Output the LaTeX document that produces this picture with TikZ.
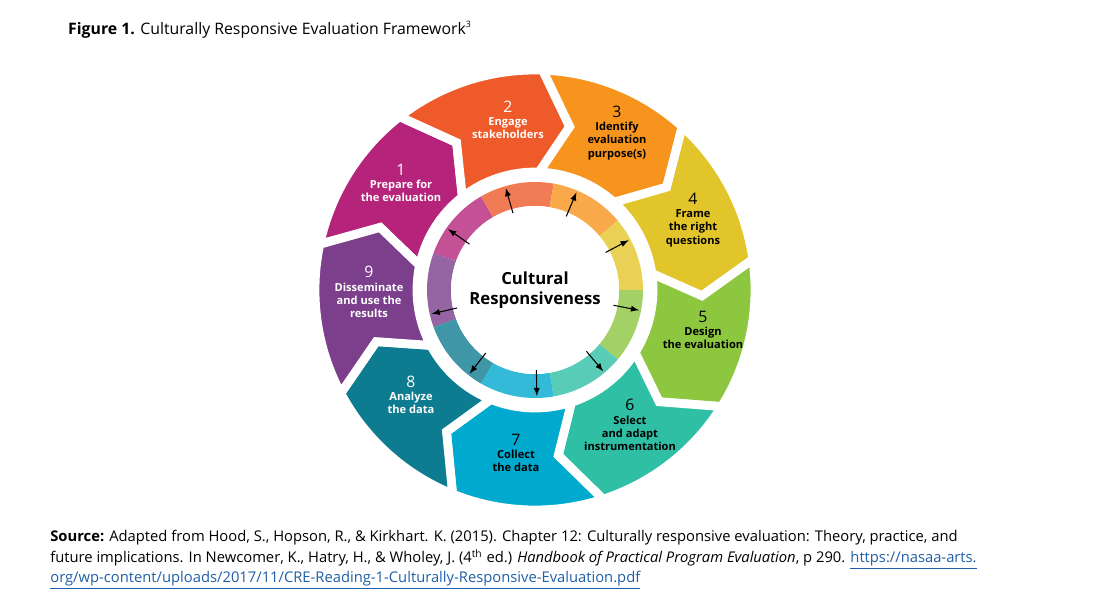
\documentclass[tikz,border=0pt]{standalone}
\usepackage{fontspec}
\setmainfont{Open Sans}
\begin{document}
\begin{tikzpicture}[x=0.02cm,y=0.02cm,
  seg/.style={draw=white,line width=5pt,line join=miter},
  lab/.style={align=center,font=\fontsize{6.3}{7.5}\selectfont\bfseries},
  arr/.style={-latex,line width=0.6pt}]
\useasboundingbox[fill=white] (0,-600) rectangle (1100,0);
\definecolor{c1}{HTML}{B5247A}\definecolor{c2}{HTML}{EE5A2A}\definecolor{c3}{HTML}{F7941D}
\definecolor{c4}{HTML}{E2C52A}\definecolor{c5}{HTML}{8DC63F}\definecolor{c6}{HTML}{2EBFA5}
\definecolor{c7}{HTML}{00A9CE}\definecolor{c8}{HTML}{0E7C90}\definecolor{c9}{HTML}{7B3F8C}
\definecolor{lnk}{HTML}{1F5FA8}
\node[anchor=west,font=\fontsize{9}{11}\selectfont] (title) at (62,-30) {\textbf{Figure 1.} Culturally Responsive Evaluation Framework\textsuperscript{\fontsize{5}{6}\selectfont 3}};
\begin{scope}[shift={(535,-290)}]
\foreach \k/\c in {1/c1,2/c2,3/c3,4/c4,5/c5,6/c6,7/c7,8/c8,9/c9}{
  \pgfmathsetmacro{\s}{168-40*(\k-1)}
  \pgfmathsetmacro{\e}{\s-40}
  \pgfmathsetmacro{\et}{\e-10}
  \pgfmathsetmacro{\st}{\s-10}
  \filldraw[seg,fill=\c] (\s:220) arc[start angle=\s,end angle=\e,radius=220] -- (\et:167) -- (\e:118)
     arc[start angle=\e,end angle=\s,radius=118] -- (\st:167) -- cycle;
  \pgfmathsetmacro{\a}{160-40*(\k-1)}
  \pgfmathsetmacro{\b}{\a-40}
  \fill[\c!80] (\a:108) arc[start angle=\a,end angle=\b,radius=108] -- (\b:84) arc[start angle=\b,end angle=\a,radius=84] -- cycle;
}
\fill[white] (0,0) circle[radius=84];
\node[lab,font=\fontsize{9.5}{11.5}\selectfont\bfseries] (center) at (0,0) {Cultural\\Responsiveness};
\foreach \k in {1,...,9}{
  \pgfmathsetmacro{\a}{145-39*(\k-1)}
  \coordinate (s\k) at (\a:80);
  \coordinate (t\k) at (\a:106);
  \draw[arr] (s\k) -- (t\k);
}
\end{scope}
\node[lab,text=white] (n1) at (401,-183) {{\fontsize{9}{10}\selectfont\mdseries 1}\\Prepare for\\the evaluation};
\node[lab,text=white] (n2) at (508,-120) {{\fontsize{9}{10}\selectfont\mdseries 2}\\Engage\\stakeholders};
\node[lab] (n3) at (617,-133) {{\fontsize{9}{10}\selectfont\mdseries 3}\\Identify\\evaluation\\purpose(s)};
\node[lab] (n4) at (693,-220) {{\fontsize{9}{10}\selectfont\mdseries 4}\\Frame\\the right\\questions};
\node[lab] (n5) at (703,-330) {{\fontsize{9}{10}\selectfont\mdseries 5}\\Design\\the evaluation};
\node[lab] (n6) at (630,-425) {{\fontsize{9}{10}\selectfont\mdseries 6}\\Select\\and adapt\\instrumentation};
\node[lab] (n7) at (516,-453) {{\fontsize{9}{10}\selectfont\mdseries 7}\\Collect\\the data};
\node[lab,text=white] (n8) at (411,-395) {{\fontsize{9}{10}\selectfont\mdseries 8}\\Analyze\\the data};
\node[lab,text=white] (n9) at (369,-292) {{\fontsize{9}{10}\selectfont\mdseries 9}\\Disseminate\\and use the\\results};
\node[anchor=north west,align=left,font=\fontsize{8.4}{11.6}\selectfont,inner sep=0] (src) at (50,-530) {\textbf{Source:} Adapted from Hood, S., Hopson, R., \& Kirkhart. K. (2015). Chapter 12: Culturally responsive evaluation: Theory, practice, and\\future implications. In Newcomer, K., Hatry, H., \& Wholey, J. (4\textsuperscript{th} ed.) \textit{Handbook of Practical Program Evaluation}, p 290. \textcolor{lnk}{\underline{https://nasaa-arts.}}\\\textcolor{lnk}{\underline{org/wp-content/uploads/2017/11/CRE-Reading-1-Culturally-Responsive-Evaluation.pdf}}};
\end{tikzpicture}
\end{document}
